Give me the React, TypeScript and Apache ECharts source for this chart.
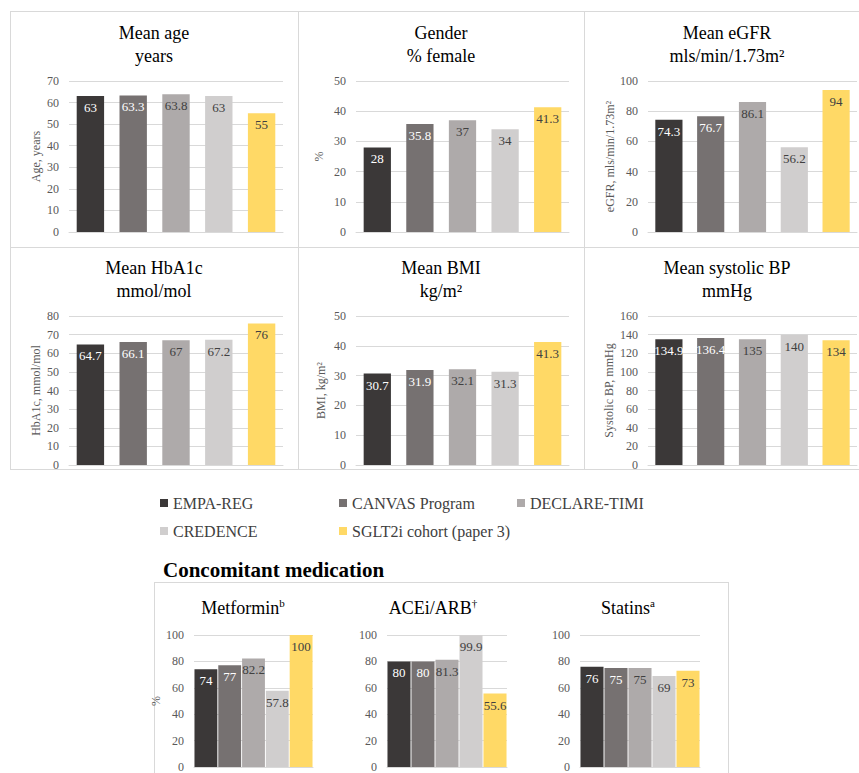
import React, { useEffect, useRef } from "react";
import * as echarts from "echarts";

const trials = ["EMPA-REG", "CANVAS Program", "DECLARE-TIMI", "CREDENCE", "SGLT2i cohort (paper 3)"];
const trialColors = ["#3b3838", "#767171", "#aeaaaa", "#d0cece", "#ffd966"];
const labelColors = ["#ffffff", "#ffffff", "#404040", "#404040", "#404040"];

const meanAge = [63, 63.3, 63.8, 63, 55];
const pctFemale = [28, 35.8, 37, 34, 41.3];
const meanEgfr = [74.3, 76.7, 86.1, 56.2, 94];
const meanHba1c = [64.7, 66.1, 67, 67.2, 76];
const meanBmi = [30.7, 31.9, 32.1, 31.3, 41.3];
const meanSbp = [134.9, 136.4, 135, 140, 134];
const metformin = [74, 77, 82.2, 57.8, 100];
const aceiArb = [80, 80, 81.3, 99.9, 55.6];
const statins = [76, 75, 75, 69, 73];

const panelTitles = [
  "Mean age\nyears",
  "Gender\n% female",
  "Mean eGFR\nmls/min/1.73m²",
  "Mean HbA1c\nmmol/mol",
  "Mean BMI\nkg/m²",
  "Mean systolic BP\nmmHg",
  "{t|Metformin}{s|b}",
  "{t|ACEi/ARB}{s|†}",
  "{t|Statins}{s|a}",
];
const axisNames = ["Age, years", "%", "eGFR, mls/min/1.73m²", "HbA1c, mmol/mol", "BMI, kg/m²", "Systolic BP, mmHg", "%", "", ""];
const axisMax = [70, 50, 100, 80, 50, 160, 100, 100, 100];
const axisStep = [10, 10, 20, 10, 10, 20, 20, 20, 20];
const panelData = [meanAge, pctFemale, meanEgfr, meanHba1c, meanBmi, meanSbp, metformin, aceiArb, statins];

const FONT = "'Liberation Serif', 'Times New Roman', serif";

// layout only
const layout = [
  { grid: { left: 69, top: 81, width: 214, height: 151 }, tx: 154, ty: 21, gap: 27, bcg: "36%" },
  { grid: { left: 356, top: 81, width: 213, height: 151 }, tx: 441, ty: 21, gap: 31, bcg: "36%" },
  { grid: { left: 648, top: 81, width: 209, height: 151 }, tx: 727, ty: 21, gap: 31, bcg: "35%" },
  { grid: { left: 69, top: 316, width: 214, height: 149 }, tx: 154, ty: 256, gap: 27, bcg: "36%" },
  { grid: { left: 356, top: 316, width: 213, height: 149 }, tx: 441, ty: 256, gap: 29, bcg: "36%" },
  { grid: { left: 648, top: 316, width: 209, height: 149 }, tx: 727, ty: 256, gap: 33, bcg: "35%" },
  { grid: { left: 194, top: 635, width: 119, height: 137 }, tx: 243, ty: 597, gap: 25, bcg: "4%" },
  { grid: { left: 387, top: 635, width: 120, height: 137 }, tx: 433, ty: 597, gap: 25, bcg: "4%" },
  { grid: { left: 580, top: 635, width: 120, height: 137 }, tx: 628, ty: 597, gap: 25, bcg: "4%" },
];

const legendPos = [
  { left: 160, top: 495 },
  { left: 339, top: 495 },
  { left: 517, top: 495 },
  { left: 160, top: 523 },
  { left: 339, top: 523 },
];

function buildOption() {
  const grids: any[] = [];
  const xAxes: any[] = [];
  const yAxes: any[] = [];
  const series: any[] = [];
  const titles: any[] = [];

  layout.forEach((l, k) => {
    grids.push({ ...l.grid, containLabel: false });
    xAxes.push({
      type: "category",
      gridIndex: k,
      data: trials,
      axisLabel: { show: false },
      axisTick: { show: false },
      axisLine: { show: true, lineStyle: { color: "#d9d9d9", width: 1 } },
    });
    yAxes.push({
      type: "value",
      gridIndex: k,
      min: 0,
      max: axisMax[k],
      interval: axisStep[k],
      name: axisNames[k],
      nameLocation: "middle",
      nameGap: l.gap,
      nameTextStyle: { fontFamily: FONT, fontSize: 12, color: "#595959" },
      axisLine: { show: false },
      axisTick: { show: false },
      axisLabel: { fontFamily: FONT, fontSize: 12, color: "#595959", margin: 10 },
      splitLine: { show: true, lineStyle: { color: "#d9d9d9", width: 1 } },
    });
    titles.push({
      text: panelTitles[k],
      left: l.tx,
      top: l.ty,
      textAlign: "center",
      padding: 0,
      textStyle: {
        fontFamily: FONT,
        fontSize: 18,
        fontWeight: "normal",
        color: "#000000",
        lineHeight: 23,
        rich: {
          t: { fontFamily: FONT, fontSize: 18, color: "#000000", lineHeight: 22 },
          s: { fontFamily: FONT, fontSize: 11, color: "#000000", lineHeight: 12, verticalAlign: "top" },
        },
      },
    });
    const values = panelData[k];
    trials.forEach((name, i) => {
      series.push({
        type: "bar",
        name,
        xAxisIndex: k,
        yAxisIndex: k,
        stack: "p" + k,
        barCategoryGap: l.bcg,
        data: values.map((v, j) => (j === i ? v : "-")),
        itemStyle: { color: trialColors[i] },
        label: {
          show: true,
          position: "insideTop",
          distance: 5,
          fontFamily: FONT,
          fontSize: 13,
          color: labelColors[i],
          textBorderWidth: 0,
          textBorderColor: "transparent",
        },
      });
    });
  });

  const legends = trials.map((name, i) => ({
    ...legendPos[i],
    data: [name],
    icon: "rect",
    itemWidth: 8,
    itemHeight: 8,
    padding: 0,
    selectedMode: false,
    textStyle: { fontFamily: FONT, fontSize: 16, color: "#404040" },
  }));

  const line = (x1: number, y1: number, x2: number, y2: number) => ({
    type: "line",
    shape: { x1, y1, x2, y2 },
    style: { stroke: "#d9d9d9", lineWidth: 1 },
    silent: true,
  });

  const graphic = [
    line(10, 11.5, 859, 11.5),
    line(10, 247.5, 859, 247.5),
    line(10, 469.5, 859, 469.5),
    line(10.5, 11, 10.5, 470),
    line(298.5, 11, 298.5, 470),
    line(584.5, 11, 584.5, 470),
    line(154, 582.5, 728, 582.5),
    line(154.5, 582, 154.5, 773),
    line(728.5, 582, 728.5, 773),
    {
      type: "text",
      x: 163,
      y: 570,
      style: {
        text: "Concomitant medication",
        fontFamily: FONT,
        fontSize: 21,
        fontWeight: "bold",
        fill: "#000000",
        textVerticalAlign: "middle",
      },
    },
  ];

  return {
    animation: false,
    backgroundColor: "#ffffff",
    title: titles,
    legend: legends,
    grid: grids,
    xAxis: xAxes,
    yAxis: yAxes,
    series,
    graphic,
  };
}

export default function App() {
  const ref = useRef<HTMLDivElement>(null);
  useEffect(() => {
    if (!ref.current) return;
    const chart = echarts.init(ref.current, undefined, { renderer: "svg" });
    chart.setOption(buildOption() as any);
    return () => chart.dispose();
  }, []);
  return (
    <div
      ref={ref}
      style={{ position: "absolute", left: 0, top: 0, width: 859, height: 773, background: "#fff" }}
    />
  );
}
